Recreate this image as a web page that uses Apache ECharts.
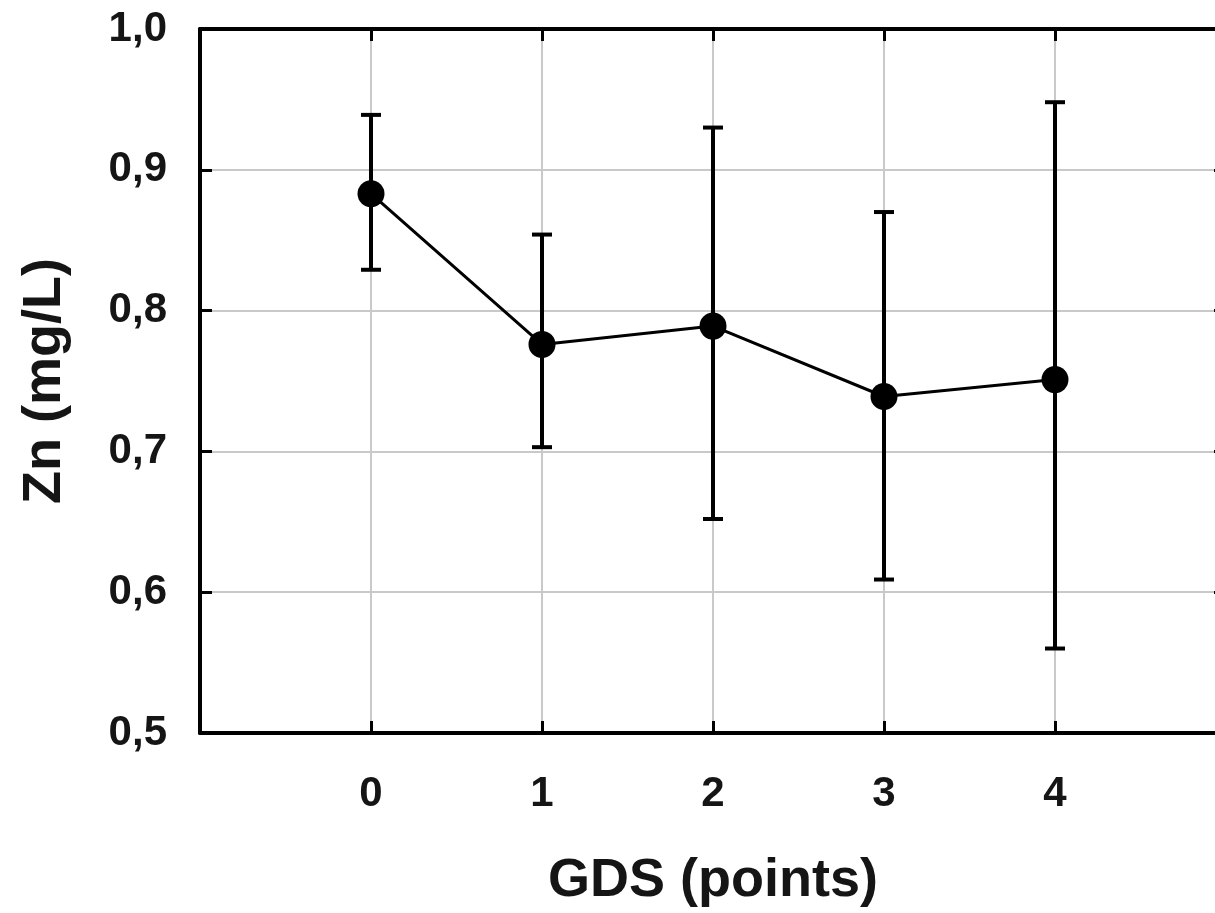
<!DOCTYPE html>
<html>
<head>
<meta charset="utf-8">
<script src="https://cdn.jsdelivr.net/npm/echarts@6/dist/echarts.min.js"></script>
<style>
html,body{margin:0;padding:0;background:#fff;overflow:hidden;}
#chart{width:1215px;height:913px;}
</style>
</head>
<body>
<div id="chart"></div>
<script>
// Data
var categories = ['0', '1', '2', '3', '4'];
var xPositions = [0, 1, 2, 3, 4];
var means = [0.883, 0.776, 0.789, 0.739, 0.751];
var upper = [0.939, 0.854, 0.930, 0.870, 0.948];
var lower = [0.829, 0.703, 0.652, 0.609, 0.560];
var yTicks = [0.5, 0.6, 0.7, 0.8, 0.9, 1.0];
var xTitle = 'GDS (points)';
var yTitle = 'Zn (mg/L)';

var font = '"Liberation Sans", Arial, sans-serif';
var textColor = '#151515';

var lineData = xPositions.map(function (x, i) { return [x, means[i]]; });
var errData = xPositions.map(function (x, i) { return [x, lower[i], upper[i]]; });

var chart = echarts.init(document.getElementById('chart'), null, {renderer: 'canvas'});

var option = {
  backgroundColor: '#ffffff',
  animation: false,
  grid: {left: 200, top: 29, width: 1026, height: 704, containLabel: false, outerBoundsMode: 'none'},
  xAxis: [{
    type: 'value', min: -1, max: 5, interval: 1,
    axisLine: {show: true, onZero: false, lineStyle: {color: '#000', width: 4}},
    axisTick: {show: true, inside: true, length: 12, lineStyle: {color: '#000', width: 3}},
    splitLine: {show: true, lineStyle: {color: '#c9c9c9', width: 2}},
    axisLabel: {
      margin: 40, fontSize: 42, fontWeight: 'bold', fontFamily: font, color: textColor,
      formatter: function (v) { var i = xPositions.indexOf(v); return i >= 0 ? categories[i] : ''; }
    },
    name: xTitle, nameLocation: 'middle', nameGap: 121,
    nameTextStyle: {fontSize: 54, fontWeight: 'bold', fontFamily: font, color: textColor}
  }, {
    type: 'value', min: -1, max: 5, interval: 1, position: 'top',
    axisLine: {show: true, onZero: false, lineStyle: {color: '#000', width: 4}},
    axisTick: {show: true, inside: true, length: 12, lineStyle: {color: '#000', width: 3}},
    axisLabel: {show: false}, splitLine: {show: false}
  }],
  yAxis: [{
    type: 'value', min: 0.5, max: 1.0, interval: 0.1,
    axisLine: {show: true, onZero: false, lineStyle: {color: '#000', width: 4}},
    axisTick: {show: true, inside: true, length: 12, lineStyle: {color: '#000', width: 3}},
    splitLine: {show: true, lineStyle: {color: '#c9c9c9', width: 2}},
    axisLabel: {
      margin: 33, fontSize: 42, fontWeight: 'bold', fontFamily: font, color: textColor,
      formatter: function (v) {
        var t = yTicks.reduce(function (a, b) { return Math.abs(b - v) < Math.abs(a - v) ? b : a; });
        return t.toFixed(1).replace('.', ',');
      }
    },
    name: yTitle, nameLocation: 'middle', nameGap: 128, nameRotate: 90,
    nameTextStyle: {fontSize: 54, fontWeight: 'bold', fontFamily: font, color: textColor}
  }, {
    type: 'value', min: 0.5, max: 1.0, interval: 0.1, position: 'right',
    axisLine: {show: true, onZero: false, lineStyle: {color: '#000', width: 4}},
    axisTick: {show: true, inside: true, length: 12, lineStyle: {color: '#000', width: 3}},
    axisLabel: {show: false}, splitLine: {show: false}
  }],
  series: [{
    type: 'custom',
    xAxisIndex: 0, yAxisIndex: 0,
    data: errData,
    z: 3,
    renderItem: function (params, api) {
      var x = api.value(0);
      var lo = api.coord([x, api.value(1)]);
      var hi = api.coord([x, api.value(2)]);
      var hw = 10;
      var style = {stroke: '#000', lineWidth: 4};
      return {
        type: 'group',
        children: [
          {type: 'line', shape: {x1: lo[0], y1: lo[1], x2: hi[0], y2: hi[1]}, style: style},
          {type: 'line', shape: {x1: lo[0] - hw, y1: lo[1], x2: lo[0] + hw, y2: lo[1]}, style: style},
          {type: 'line', shape: {x1: hi[0] - hw, y1: hi[1], x2: hi[0] + hw, y2: hi[1]}, style: style}
        ]
      };
    }
  }, {
    type: 'line',
    xAxisIndex: 0, yAxisIndex: 0,
    data: lineData,
    z: 4,
    symbol: 'circle', symbolSize: 27,
    lineStyle: {color: '#000', width: 3},
    itemStyle: {color: '#000', borderWidth: 0}
  }]
};
chart.setOption(option);
</script>
</body>
</html>
